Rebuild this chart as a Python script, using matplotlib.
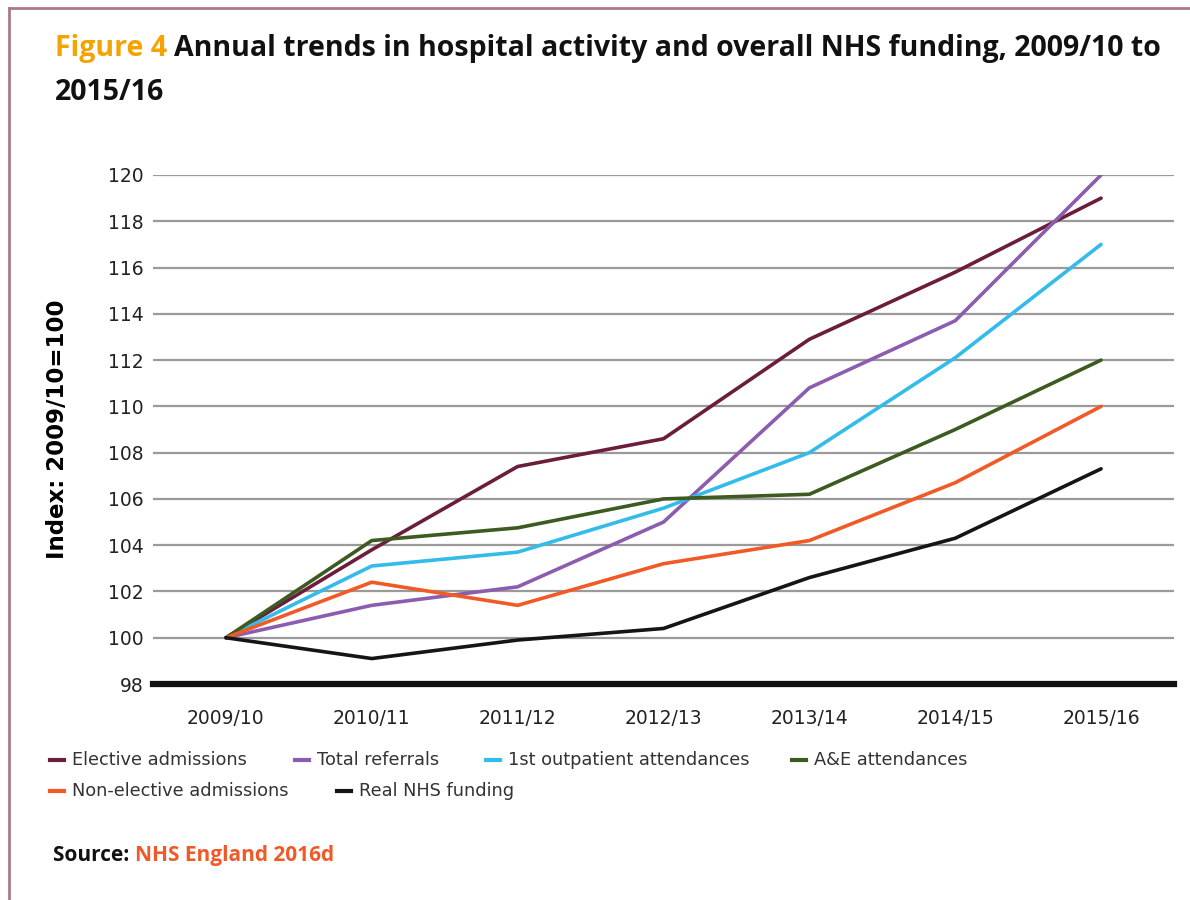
import matplotlib

matplotlib.use("Agg")
import matplotlib.pyplot as plt  # noqa: E402
from matplotlib.lines import Line2D  # noqa: E402

# data (index, 2009/10 = 100)
years = ["2009/10", "2010/11", "2011/12", "2012/13", "2013/14", "2014/15", "2015/16"]
elective = [100, 103.8, 107.4, 108.6, 112.9, 115.8, 119.0]
referrals = [100, 101.4, 102.2, 105.0, 110.8, 113.7, 120.0]
outpatient = [100, 103.1, 103.7, 105.6, 108.0, 112.1, 117.0]
ae = [100, 104.2, 104.75, 106.0, 106.2, 109.0, 112.0]
non_elective = [100, 102.4, 101.4, 103.2, 104.2, 106.7, 110.0]
funding = [100, 99.1, 99.9, 100.4, 102.6, 104.3, 107.3]

series_names = ["Elective admissions", "Total referrals", "1st outpatient attendances",
                "A&E attendances", "Non-elective admissions", "Real NHS funding"]
series_values = [elective, referrals, outpatient, ae, non_elective, funding]
colors = ["#6B1D3C", "#8C5DAF", "#33BCE9", "#3D5A20", "#F15A27", "#151515"]
yticks = list(range(98, 121, 2))

W, H = 1190, 900
TITLE_FONT = ["Open Sans", "DejaVu Sans"]

fig = plt.figure(figsize=(W / 100, H / 100), dpi=100)
ax = fig.add_axes([153 / W, 1 - 684 / H, (1174 - 153) / W, (684 - 175) / H])

x = list(range(len(years)))
for vals, col in zip(series_values, colors):
    ax.plot(x, vals, color=col, lw=2.6, solid_joinstyle="round", solid_capstyle="round", zorder=3)

ax.set_xlim(-0.5, len(years) - 0.5)
ax.set_ylim(98, 120)
ax.set_yticks(yticks)
ax.set_xticks(x)
ax.set_xticklabels(years)
ax.tick_params(axis="both", length=0, labelsize=13.5, colors="#222222")
ax.tick_params(axis="x", pad=18)
ax.tick_params(axis="y", pad=7)
for spine in ax.spines.values():
    spine.set_visible(False)
for v in yticks[1:]:
    ax.axhline(v, color="#9a9a9a", lw=1.6, zorder=1)
ax.axhline(98, color="#111111", lw=4.5, zorder=4, clip_on=False)
ax.set_ylabel("Index: 2009/10=100", fontsize=16.5, fontweight="bold")
ax.yaxis.set_label_coords(-(153 - 58) / (1174 - 153), 0.5)
ax.yaxis.label.set_va("center")

# title, two colours on one line
fig.canvas.draw()
r = fig.canvas.get_renderer()
t1 = fig.text(55 / W, 1 - 56 / H, "Figure 4 ", color="#F5A300", fontsize=20.5,
              fontweight="bold", family=TITLE_FONT)
bb = t1.get_window_extent(r)
fig.text(bb.x1 / W, 1 - 56 / H, "Annual trends in hospital activity and overall NHS funding, 2009/10 to",
         color="#111111", fontsize=20.5, fontweight="bold", family=TITLE_FONT)
fig.text(55 / W, 1 - 100 / H, "2015/16", color="#111111", fontsize=20.5,
         fontweight="bold", family=TITLE_FONT)

# legend laid out in two rows like the original
legend_pos = [(50, 760), (295, 760), (486, 760), (792, 760), (50, 791), (337, 791)]
for name, col, (lx, ly) in zip(series_names, colors, legend_pos):
    fig.add_artist(Line2D([lx / W, (lx + 14) / W], [1 - ly / H, 1 - ly / H], color=col, lw=3))
    fig.text((lx + 22) / W, 1 - ly / H, name, fontsize=12.8, color="#333333", va="center")

# source line
s1 = fig.text(53 / W, 1 - 861 / H, "Source: ", color="#111111", fontsize=15,
              fontweight="bold", family=TITLE_FONT)
bb = s1.get_window_extent(r)
fig.text(bb.x1 / W, 1 - 861 / H, "NHS England 2016d", color="#F15A27", fontsize=15,
         fontweight="bold", family=TITLE_FONT)

# frame on the left and top edges
fig.add_artist(Line2D([9 / W, 9 / W], [0, 1 - 8 / H], color="#A87A8C", lw=2))
fig.add_artist(Line2D([9 / W, 1], [1 - 8 / H, 1 - 8 / H], color="#A87A8C", lw=2))

fig.savefig("out.png", dpi=100)
